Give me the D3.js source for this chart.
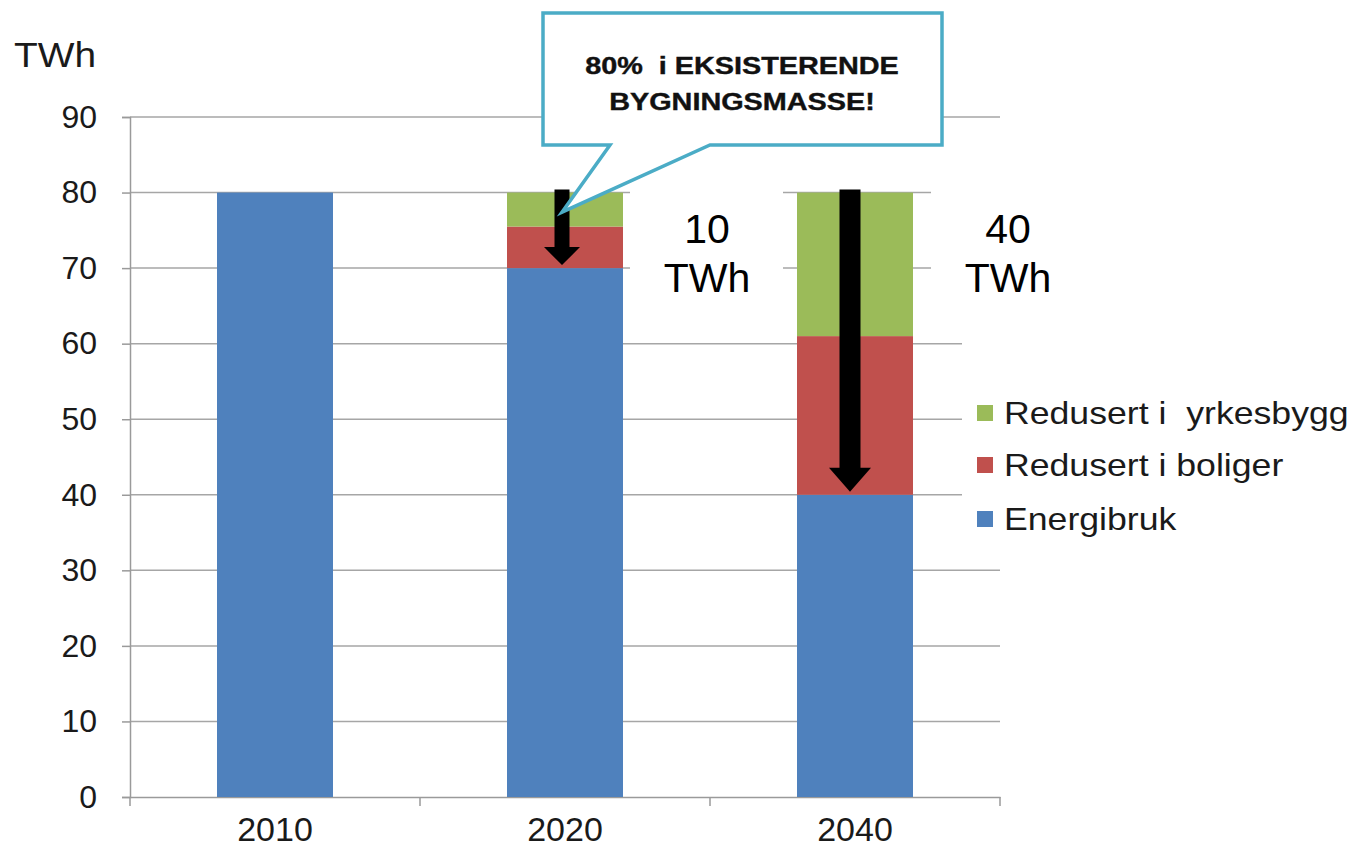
<!DOCTYPE html>
<html>
<head>
<meta charset="utf-8">
<script src="https://cdnjs.cloudflare.com/ajax/libs/d3/7.8.5/d3.min.js"></script>
<style>
  body { margin: 0; background: #fff; }
  svg { display: block; font-family: "Liberation Sans", Arial, sans-serif; }
</style>
</head>
<body>
<div id="chart"></div>
<script>
// data
var years = ["2010", "2020", "2040"];
var energibruk = [80, 70, 40];
var boliger = [0, 5.5, 21];
var yrkesbygg = [0, 4.5, 19];
var seriesNames = ["Energibruk", "Redusert i boliger", "Redusert i  yrkesbygg"];
var yTicks = [0, 10, 20, 30, 40, 50, 60, 70, 80, 90];
var arrowYears = ["2020", "2040"];
var arrowFrom = [80, 80];
var arrowTo = [70, 40];
var arrowLabels = ["10", "40"];
var calloutLines = ["80%  i EKSISTERENDE", "BYGNINGSMASSE!"];

var width = 1353, height = 852;
var margin = {left: 130, top: 117, right: 353, bottom: 55};
var colors = ["#4f81bd", "#c0504d", "#9bbb59"];

var svg = d3.select("#chart").append("svg")
    .attr("width", width)
    .attr("height", height);

var x = d3.scaleBand()
    .domain(years)
    .range([margin.left, width - margin.right])
    .paddingInner(0.6)
    .paddingOuter(0.3);

var y = d3.scaleLinear()
    .domain([0, 90])
    .range([height - margin.bottom, margin.top]);

// gridlines
svg.append("g")
    .selectAll("line")
    .data(yTicks.filter(d => d > 0))
    .enter().append("line")
    .attr("x1", margin.left)
    .attr("x2", width - margin.right)
    .attr("y1", d => y(d))
    .attr("y2", d => y(d))
    .attr("stroke", "#a6a6a6")
    .attr("stroke-width", 1.5);

// y axis
var yAxis = svg.append("g")
    .attr("transform", `translate(${margin.left},0)`)
    .call(d3.axisLeft(y).tickValues(yTicks).tickSize(8).tickPadding(25));
yAxis.select(".domain").attr("stroke", "#9a9a9a").attr("stroke-width", 1.5);
yAxis.selectAll(".tick line").attr("stroke", "#9a9a9a").attr("stroke-width", 1.5);
yAxis.selectAll(".tick text")
    .attr("font-size", 32)
    .attr("font-family", "Liberation Sans, Arial, sans-serif")
    .attr("fill", "#1a1a1a");

// x axis
var xAxis = svg.append("g")
    .attr("transform", `translate(0,${y(0)})`)
    .call(d3.axisBottom(x).tickSize(0).tickPadding(20));
xAxis.select(".domain").attr("stroke", "#9a9a9a").attr("stroke-width", 1.5);
xAxis.selectAll(".tick text")
    .attr("font-size", 34)
    .attr("font-family", "Liberation Sans, Arial, sans-serif")
    .attr("fill", "#1a1a1a");
var step = x.step();
xAxis.selectAll(".sep")
    .data(d3.range(years.length + 1))
    .enter().append("line")
    .attr("x1", i => margin.left + i * step)
    .attr("x2", i => margin.left + i * step)
    .attr("y1", 0)
    .attr("y2", 9)
    .attr("stroke", "#9a9a9a")
    .attr("stroke-width", 1.5);

// y unit label
svg.append("text")
    .attr("transform", "translate(14,67) scale(1.08,1)")
    .attr("font-size", 36)
    .attr("fill", "#1a1a1a")
    .text("TWh");

// stacked bars
var rows = years.map((yr, i) => ({year: yr, a: energibruk[i], b: boliger[i], c: yrkesbygg[i]}));
var stacked = d3.stack().keys(["a", "b", "c"])(rows);

svg.append("g")
    .selectAll("g")
    .data(stacked)
    .enter().append("g")
    .attr("fill", (d, i) => colors[i])
    .selectAll("rect")
    .data(d => d)
    .enter().append("rect")
    .attr("x", d => x(d.data.year))
    .attr("width", x.bandwidth())
    .attr("y", d => y(d[1]))
    .attr("height", d => y(d[0]) - y(d[1]));

// white boxes behind the reduction labels
var labelG = svg.append("g");
arrowYears.forEach(function(yr, i) {
    var bx = x(yr) + x.bandwidth() + (i === 0 ? 7 : 18);
    labelG.append("rect")
        .attr("x", bx)
        .attr("y", y(arrowFrom[i]) - 4)
        .attr("width", i === 0 ? 153 : 170)
        .attr("height", 136)
        .attr("fill", "#fff");
});

// legend (white panel hides gridlines)
var legend = svg.append("g");
legend.append("rect")
    .attr("x", 962).attr("y", 338)
    .attr("width", 391).attr("height", 210)
    .attr("fill", "#fff");
var legendOrder = [2, 1, 0];
var legendY = [413, 465, 519];
legendOrder.forEach(function(k, j) {
    legend.append("rect")
        .attr("x", 977).attr("y", legendY[j] - 8)
        .attr("width", 16).attr("height", 16)
        .attr("fill", colors[k]);
    legend.append("text")
        .attr("transform", `translate(1004,${legendY[j] + 11}) scale(1.15,1)`)
        .attr("font-size", 31)
        .attr("fill", "#1a1a1a")
        .style("white-space", "pre")
        .text(seriesNames[k]);
});

// arrows and labels
var shaftW = [15, 21], headW = [36, 42], headH = [18, 24];
arrowYears.forEach(function(yr, i) {
    var cx = x(yr) + x.bandwidth() / 2 + (i === 0 ? -3 : -5);
    var top = y(arrowFrom[i]) - 3, tip = y(arrowTo[i]) - 3;
    var hb = tip - headH[i], sw = shaftW[i] / 2, hw = headW[i] / 2;
    svg.append("path")
        .attr("d", `M${cx - sw},${top}L${cx + sw},${top}L${cx + sw},${hb}L${cx + hw},${hb}L${cx},${tip}L${cx - hw},${hb}L${cx - sw},${hb}Z`)
        .attr("fill", "#000");
    var lx = x(yr) + x.bandwidth() + (i === 0 ? 84 : 95);
    labelG.append("text")
        .attr("x", lx).attr("y", y(arrowFrom[i]) + 50)
        .attr("text-anchor", "middle")
        .attr("font-size", 41)
        .attr("fill", "#000")
        .text(arrowLabels[i]);
    labelG.append("text")
        .attr("x", lx).attr("y", y(arrowFrom[i]) + 99)
        .attr("text-anchor", "middle")
        .attr("font-size", 41)
        .attr("fill", "#000")
        .text("TWh");
});

// callout
var tipX = x("2020") + x.bandwidth() / 2 - 3, tipY = y(77.4);
var bL = 543, bR = 942, bT = 13, bB = 145;
svg.append("path")
    .attr("d", `M${bL},${bT}L${bR},${bT}L${bR},${bB}L710,${bB}L${tipX},${tipY}L610,${bB}L${bL},${bB}Z`)
    .attr("fill", "#fff")
    .attr("stroke", "#4bacc6")
    .attr("stroke-width", 3.5)
    .attr("stroke-linejoin", "miter");
calloutLines.forEach(function(t, i) {
    svg.append("text")
        .attr("transform", `translate(742,${74 + i * 36}) scale(1.2,1)`)
        .attr("text-anchor", "middle")
        .attr("font-size", 24)
        .attr("font-weight", "bold")
        .attr("fill", "#111")
        .attr("stroke", "#111")
        .attr("stroke-width", 0.4)
        .style("white-space", "pre")
        .text(t);
});
</script>
</body>
</html>
